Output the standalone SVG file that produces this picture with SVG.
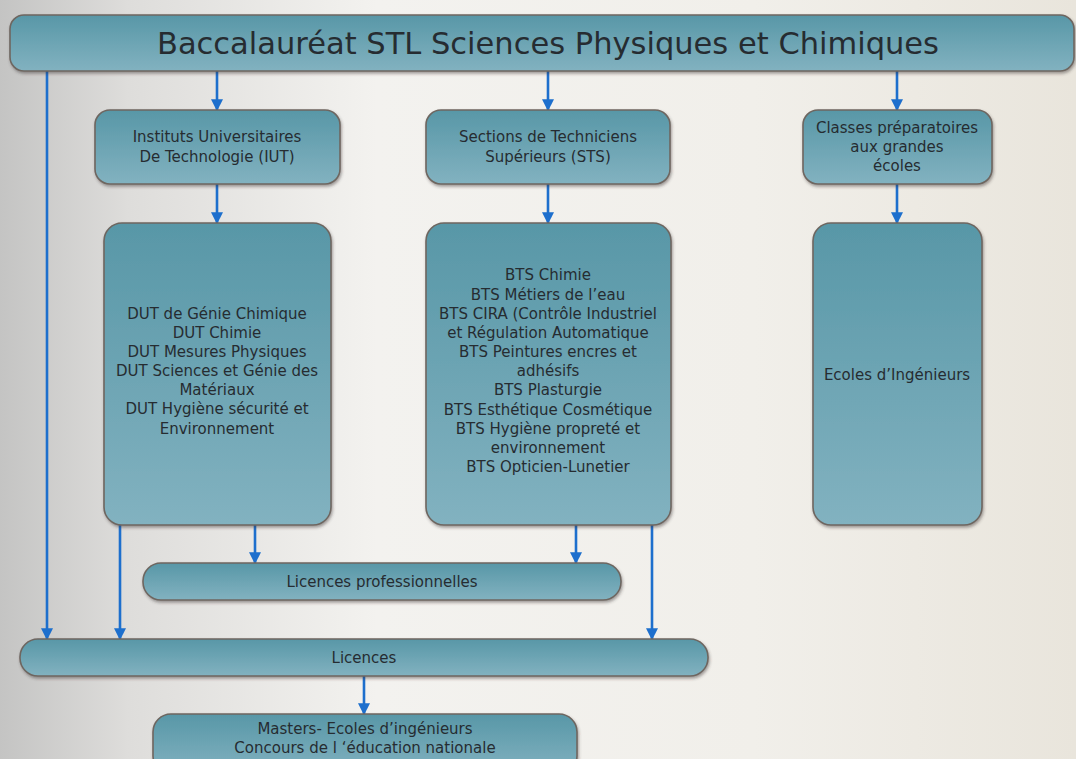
<svg xmlns="http://www.w3.org/2000/svg" width="1076" height="759" viewBox="0 0 1076 759">
<defs>
<linearGradient id="bg" x1="0" y1="0" x2="1" y2="0">
<stop offset="0" stop-color="#c4c4c3"/>
<stop offset="0.12" stop-color="#dedddb"/>
<stop offset="0.35" stop-color="#f3f2ef"/>
<stop offset="0.7" stop-color="#f1efea"/>
<stop offset="1" stop-color="#e9e5dc"/>
</linearGradient>
<linearGradient id="box" x1="0" y1="0" x2="0" y2="1">
<stop offset="0" stop-color="#5897a7"/>
<stop offset="1" stop-color="#82b2c0"/>
</linearGradient>
<filter id="sh" x="-10%" y="-10%" width="120%" height="130%">
<feDropShadow dx="1" dy="2" stdDeviation="1.5" flood-color="#3a3430" flood-opacity="0.45"/>
</filter>
<marker id="ah" viewBox="0 0 10 10" refX="9" refY="5" markerWidth="4.6" markerHeight="4.6" orient="auto" markerUnits="strokeWidth">
<path d="M0,0 L10,5 L0,10 z" fill="#1d6fcd"/>
</marker>
<style>
.n rect{fill:url(#box);stroke:#6e6660;stroke-width:1.6;filter:url(#sh)}
.t{font-family:"DejaVu Sans","Liberation Sans",sans-serif;font-size:15px;fill:#262c31;text-anchor:middle}
.c line{stroke:#1d6fcd;stroke-width:2.6;marker-end:url(#ah)}
</style>
</defs>
<rect width="1076" height="759" fill="url(#bg)"/>
<g class="c" id="connectors">
<line x1="47" y1="71" x2="47" y2="639"/>
<line x1="217" y1="71" x2="217" y2="110"/>
<line x1="548" y1="71" x2="548" y2="110"/>
<line x1="897" y1="71" x2="897" y2="110"/>
<line x1="217" y1="184" x2="217" y2="223"/>
<line x1="548" y1="184" x2="548" y2="223"/>
<line x1="897" y1="184" x2="897" y2="223"/>
<line x1="120" y1="525" x2="120" y2="639"/>
<line x1="255" y1="525" x2="255" y2="563"/>
<line x1="576" y1="525" x2="576" y2="563"/>
<line x1="652" y1="525" x2="652" y2="639"/>
<line x1="364" y1="676" x2="364" y2="714"/>
</g>
<g class="n" id="bac">
<rect x="10" y="15" width="1064" height="56" rx="14"/>
<text class="t" x="548" y="54" style="font-size:30.5px">Baccalauréat STL Sciences Physiques et Chimiques</text>
</g>
<g class="n" id="iut">
<rect x="95" y="110" width="245" height="74" rx="15"/>
<text class="t" x="217" y="142">Instituts Universitaires</text>
<text class="t" x="217" y="162">De Technologie (IUT)</text>
</g>
<g class="n" id="sts">
<rect x="426" y="110" width="244" height="74" rx="15"/>
<text class="t" x="548" y="142">Sections de Techniciens</text>
<text class="t" x="548" y="162">Supérieurs (STS)</text>
</g>
<g class="n" id="cpge">
<rect x="803" y="110" width="189" height="74" rx="15"/>
<text class="t" x="897" y="133">Classes préparatoires</text>
<text class="t" x="897" y="152">aux grandes</text>
<text class="t" x="897" y="171">écoles</text>
</g>
<g class="n" id="dut">
<rect x="104" y="223" width="227" height="302" rx="18"/>
<text class="t" x="217" y="319">DUT de Génie Chimique</text>
<text class="t" x="217" y="338">DUT Chimie</text>
<text class="t" x="217" y="357">DUT Mesures Physiques</text>
<text class="t" x="217" y="376">DUT Sciences et Génie des</text>
<text class="t" x="217" y="395">Matériaux</text>
<text class="t" x="217" y="414">DUT Hygiène sécurité et</text>
<text class="t" x="217" y="434">Environnement</text>
</g>
<g class="n" id="bts">
<rect x="426" y="223" width="245" height="302" rx="18"/>
<text class="t" x="548" y="280">BTS Chimie</text>
<text class="t" x="548" y="300">BTS Métiers de l’eau</text>
<text class="t" x="548" y="319">BTS CIRA (Contrôle Industriel</text>
<text class="t" x="548" y="338">et Régulation Automatique</text>
<text class="t" x="548" y="357">BTS Peintures encres et</text>
<text class="t" x="548" y="376">adhésifs</text>
<text class="t" x="548" y="395">BTS Plasturgie</text>
<text class="t" x="548" y="415">BTS Esthétique Cosmétique</text>
<text class="t" x="548" y="434">BTS Hygiène propreté et</text>
<text class="t" x="548" y="453">environnement</text>
<text class="t" x="548" y="472">BTS Opticien-Lunetier</text>
</g>
<g class="n" id="ecoles">
<rect x="813" y="223" width="169" height="302" rx="18"/>
<text class="t" x="897" y="380">Ecoles d’Ingénieurs</text>
</g>
<g class="n" id="licpro">
<rect x="143" y="563" width="478" height="37" rx="18"/>
<text class="t" x="382" y="587">Licences professionnelles</text>
</g>
<g class="n" id="licences">
<rect x="20" y="639" width="688" height="37" rx="18"/>
<text class="t" x="364" y="663">Licences</text>
</g>
<g class="n" id="masters">
<rect x="153" y="714" width="424" height="60" rx="18"/>
<text class="t" x="365" y="734">Masters- Ecoles d’ingénieurs</text>
<text class="t" x="365" y="753">Concours de l ‘éducation nationale</text>
</g>
</svg>
